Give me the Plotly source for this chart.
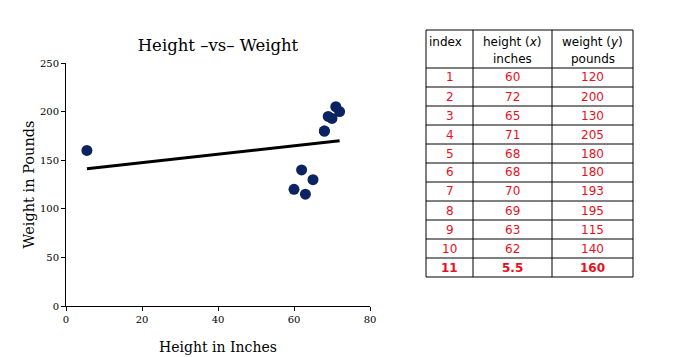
import numpy as np
import plotly.graph_objects as go

index = [1, 2, 3, 4, 5, 6, 7, 8, 9, 10, 11]
height_in = [60, 72, 65, 71, 68, 68, 70, 69, 63, 62, 5.5]
weight_lb = [120, 200, 130, 205, 180, 180, 193, 195, 115, 140, 160]
header_top = ["index", "height (<i>x</i>)", "weight (<i>y</i>)"]
header_bottom = ["", "inches", "pounds"]

slope, intercept = np.polyfit(height_in, weight_lb, 1)
fit_x = [min(height_in), max(height_in)]
fit_y = [slope * v + intercept for v in fit_x]

serif = "DejaVu Serif"
sans = "DejaVu Sans"
W, H = 684, 357
OFF = 8  # page body margin


def px(x):
    return (x - OFF) / W


def py(y):
    return 1 - (y - OFF) / H


fig = go.Figure()
fig.add_trace(go.Scatter(x=fit_x, y=fit_y, mode="lines",
                         line=dict(color="black", width=3), showlegend=False))
fig.add_trace(go.Scatter(x=height_in, y=weight_lb, mode="markers",
                         marker=dict(color="#0b2461", size=11), showlegend=False))

# ---- table drawn with shapes + annotations (screen pixel layout -> paper coords)
col_edges = [426, 473, 552, 633]
header_top_px, header_bot_px = 30, 68
row_h = 19
n = len(index)
row_edges = [header_bot_px + i * row_h for i in range(n + 1)]
table_bottom = row_edges[-1]

shapes = []
for y in [header_top_px] + row_edges:
    shapes.append(dict(type="line", xref="paper", yref="paper",
                       x0=px(col_edges[0]), x1=px(col_edges[-1]), y0=py(y), y1=py(y),
                       line=dict(color="black", width=1)))
for x in col_edges:
    shapes.append(dict(type="line", xref="paper", yref="paper",
                       x0=px(x), x1=px(x), y0=py(header_top_px), y1=py(table_bottom),
                       line=dict(color="black", width=1)))

annotations = []
for c in range(3):
    xc = px((col_edges[c] + col_edges[c + 1]) / 2)
    if c == 0:
        annotations.append(dict(text=header_top[c], x=px(col_edges[0] + 1), xanchor="left",
                                y=py(42), yanchor="middle", xref="paper", yref="paper",
                                showarrow=False, font=dict(family=sans, size=12, color="black")))
    else:
        annotations.append(dict(text=header_top[c], x=xc, xanchor="center",
                                y=py(42), yanchor="middle", xref="paper", yref="paper",
                                showarrow=False, font=dict(family=sans, size=12, color="black")))
    if header_bottom[c]:
        annotations.append(dict(text=header_bottom[c], x=xc, xanchor="center",
                                y=py(59), yanchor="middle", xref="paper", yref="paper",
                                showarrow=False, font=dict(family=sans, size=12, color="black")))

columns = [index, height_in, weight_lb]
for r in range(n):
    yc = py((row_edges[r] + row_edges[r + 1]) / 2)
    last = r == n - 1
    for c in range(3):
        s = f"{columns[c][r]:g}"
        if last:
            s = f"<b>{s}</b>"
        annotations.append(dict(text=s, x=px((col_edges[c] + col_edges[c + 1]) / 2),
                                xanchor="center", y=yc, yanchor="middle",
                                xref="paper", yref="paper", showarrow=False,
                                font=dict(family=sans, size=12, color="#e8101c")))

fig.update_layout(
    width=W, height=H,
    margin=dict(l=0, r=0, t=0, b=0),
    paper_bgcolor="white", plot_bgcolor="white",
    shapes=shapes, annotations=annotations,
    title=dict(text="Height \u2013vs\u2013 Weight", x=px(218), xanchor="center",
               y=py(45), yanchor="middle",
               font=dict(family=serif, size=16.5, color="black")),
    xaxis=dict(domain=[px(66), px(370)], range=[0, 80], dtick=20, automargin=False,
               showgrid=False, zeroline=False, showline=True, linecolor="black",
               ticks="outside", ticklen=4, tickcolor="black",
               tickfont=dict(family=serif, size=10, color="black"),
               title=dict(text="Height in Inches", standoff=18,
                          font=dict(family=serif, size=14, color="black"))),
    yaxis=dict(domain=[py(306), py(63)], range=[0, 250], dtick=50, automargin=False,
               showgrid=False, zeroline=False, showline=True, linecolor="black",
               ticks="outside", ticklen=4, tickcolor="black",
               tickfont=dict(family=serif, size=10, color="black"),
               title=dict(text="Weight in Pounds", standoff=1,
                          font=dict(family=serif, size=14.5, color="black"))),
)

fig.write_html("out.html")
